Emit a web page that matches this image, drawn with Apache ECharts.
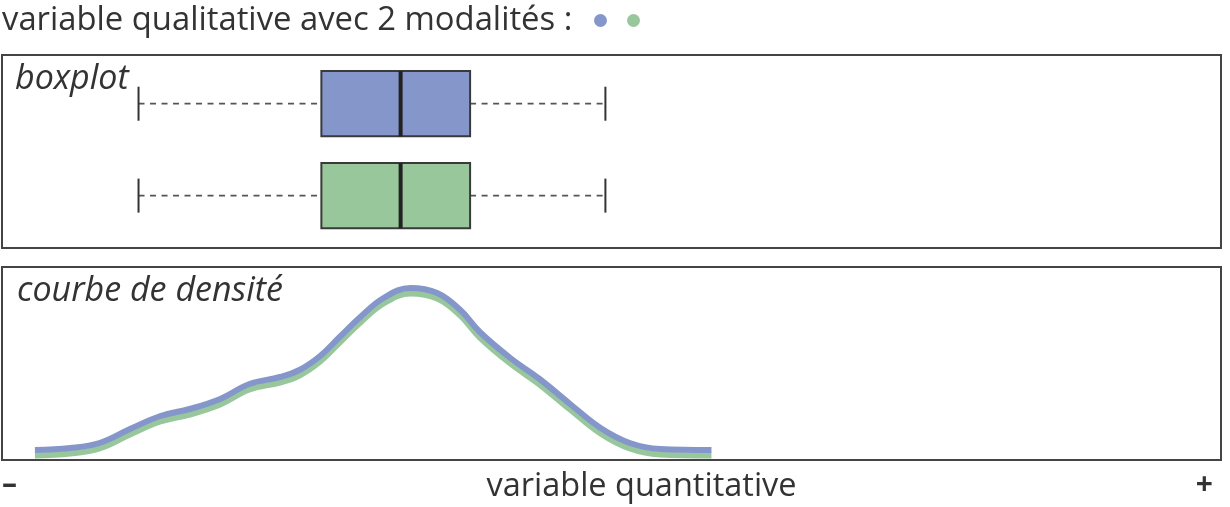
<!DOCTYPE html>
<html>
<head>
<meta charset="utf-8">
<style>
  html, body { margin: 0; padding: 0; background: #fff; }
  #chart { width: 1230px; height: 507px; }
</style>
<script src="https://cdn.jsdelivr.net/npm/echarts@6/dist/echarts.min.js"></script>
</head>
<body>
<div id="chart"></div>
<script>
// two modalities with the same distribution
const modalites = ['modalité 1', 'modalité 2']
const couleurs = ['#8597CA', '#98C79C']

// boxplot stats on the quantitative scale (0 = "–", 100 = "+"): min, Q1, median, Q3, max
const boxStats = [
  [11.2, 26.2, 32.7, 38.4, 49.5],
  [11.2, 26.2, 32.7, 38.4, 49.5]
]
const boxRows = [1, 2]

// density curve
const densiteX = [2.7, 5.6, 8.0, 10.5, 13.0, 15.4, 17.9, 20.3, 22.8, 24.4, 26.1, 27.7,
  29.4, 31.3, 33.5, 35.7, 37.6, 39.2, 41.7, 44.1, 46.6, 49.1, 51.5, 54.0, 58.2]
const densiteY = [0, 2, 7, 21, 34, 41, 51, 66, 73, 80, 94, 113,
  133, 152, 162, 157, 140, 118, 92, 71, 46, 22, 7, 1, 0]

const font = '"Open Sans", "Noto Sans", sans-serif'
const txt = '#333'

function renderBox(params, api) {
  const row = api.value(5)
  const p = [0, 1, 2, 3, 4].map(i => api.coord([api.value(i), row])[0])
  const yc = api.coord([api.value(2), row])[1]
  const unit = api.size([0, 1])[1]
  const bh = unit * 0.355, ch = unit * 0.185
  const dash = { stroke: '#555', lineWidth: 1.7, lineDash: [6, 5.5] }
  const cap = { stroke: '#333', lineWidth: 2 }
  return {
    type: 'group',
    children: [
      { type: 'line', shape: { x1: p[0], y1: yc, x2: p[1], y2: yc }, style: dash },
      { type: 'line', shape: { x1: p[3], y1: yc, x2: p[4], y2: yc }, style: dash },
      { type: 'line', shape: { x1: p[0], y1: yc - ch, x2: p[0], y2: yc + ch }, style: cap },
      { type: 'line', shape: { x1: p[4], y1: yc - ch, x2: p[4], y2: yc + ch }, style: cap },
      { type: 'rect', shape: { x: p[1], y: yc - bh, width: p[3] - p[1], height: 2 * bh },
        style: { fill: api.visual('color'), stroke: '#3a3a3a', lineWidth: 2 } },
      { type: 'line', shape: { x1: p[2], y1: yc - bh, x2: p[2], y2: yc + bh },
        style: { stroke: '#222', lineWidth: 4 } }
    ]
  }
}

const densite = densiteX.map((x, i) => [x, densiteY[i]])

const series = []
modalites.forEach((m, i) => {
  series.push({
    name: m,
    type: 'custom',
    xAxisIndex: 0,
    yAxisIndex: 0,
    itemStyle: { color: couleurs[i] },
    encode: { x: [0, 1, 2, 3, 4], y: 5 },
    renderItem: renderBox,
    data: [boxStats[i].concat([boxRows[i]])]
  })
})
// green first, blue on top, each on its own (slightly shifted) axis
;[1, 0].forEach(i => {
  series.push({
    name: modalites[i],
    type: 'line',
    xAxisIndex: 1,
    yAxisIndex: 1 + i,
    smooth: 0.4,
    showSymbol: false,
    z: 3 - i,
    itemStyle: { color: couleurs[i] },
    lineStyle: { color: couleurs[i], width: 6 },
    data: densite
  })
})

const chart = echarts.init(document.getElementById('chart'))
chart.setOption({
  animation: false,
  title: [
    { text: 'variable qualitative avec 2 modalités :', left: -3, top: -1,
      textStyle: { fontFamily: font, fontSize: 32.8, fontWeight: 'normal', color: txt } },
    { text: 'boxplot', left: 10, top: 57,
      textStyle: { fontFamily: font, fontSize: 34, fontWeight: 'normal', fontStyle: 'italic', color: txt } },
    { text: 'courbe de densité', left: 12, top: 269,
      textStyle: { fontFamily: font, fontSize: 34, fontWeight: 'normal', fontStyle: 'italic', color: txt } }
  ],
  legend: {
    data: modalites,
    left: 589, top: 9,
    icon: 'circle',
    itemWidth: 13, itemHeight: 13, itemGap: 20,
    formatter: () => '',
    selectedMode: false
  },
  grid: [
    { left: 2, top: 55, width: 1219, height: 193, show: true, borderColor: '#444', borderWidth: 2,
      outerBoundsMode: 'none' },
    { left: 2, top: 267, width: 1219, height: 193, show: true, borderColor: '#444', borderWidth: 2,
      outerBoundsMode: 'none' }
  ],
  xAxis: [
    { type: 'value', gridIndex: 0, min: 0, max: 100, show: false },
    { type: 'value', gridIndex: 1, min: 0, max: 100, interval: 100,
      name: 'variable quantitative', nameLocation: 'middle', nameGap: 10, nameMoveOverlap: false,
      nameTextStyle: { fontFamily: font, fontSize: 32.5, color: txt, padding: [0, 0, 0, 60] },
      axisLine: { show: false }, axisTick: { show: false }, splitLine: { show: false },
      axisLabel: {
        margin: 10, fontFamily: font, fontSize: 30, fontWeight: 'bold', color: txt,
        alignMinLabel: 'left', alignMaxLabel: 'right', padding: [0, 8, 0, 0],
        formatter: v => v === 0 ? '–' : '+'
      }
    }
  ],
  yAxis: [
    { type: 'value', gridIndex: 0, inverse: true, min: 0.47, max: 2.57, show: false },
    { type: 'value', gridIndex: 1, min: -10, max: 183, show: false },
    { type: 'value', gridIndex: 1, min: -4.5, max: 188.5, show: false }
  ],
  series: series
})
</script>
</body>
</html>
